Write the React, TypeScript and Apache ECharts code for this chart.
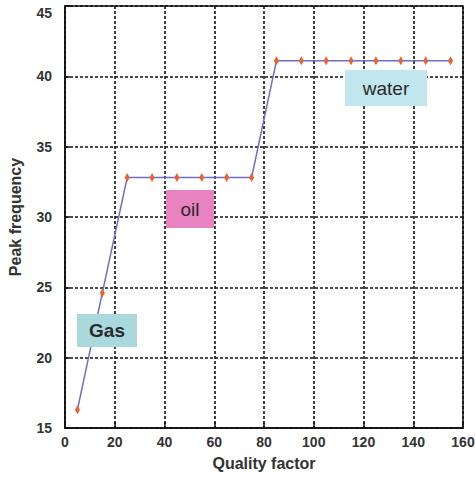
import React, { useEffect, useRef } from "react";
import * as echarts from "echarts";

const qualityFactor = [5, 15, 25, 35, 45, 55, 65, 75, 85, 95, 105, 115, 125, 135, 145, 155];
const peakFrequency = [16.3, 24.6, 32.8, 32.8, 32.8, 32.8, 32.8, 32.8, 41.1, 41.1, 41.1, 41.1, 41.1, 41.1, 41.1, 41.1];
const labelTexts = ["Gas", "oil", "water"];
const labelFills = ["#a9d8dd", "#e882c0", "#c2e6ee"];
const labelBold = [true, false, false];
const labelBoxes = [
  { x: 77, y: 314, w: 60, h: 33 },
  { x: 166, y: 190, w: 48, h: 38 },
  { x: 345, y: 70, w: 82, h: 36 },
];

const FONT = "'Liberation Sans', Arial, sans-serif";

export default function App() {
  const ref = useRef<HTMLDivElement>(null);
  useEffect(() => {
    if (!ref.current) return;
    const chart = echarts.init(ref.current, null, { renderer: "svg" });
    const grid = { color: "#111", type: [3, 2] as any, width: 1.6 };
    chart.setOption({
      animation: false,
      backgroundColor: "#fff",
      grid: {
        left: 65, right: 12, top: 6, bottom: 51, show: true, borderColor: "#111", borderWidth: 1.5,
        backgroundColor: "transparent", outerBoundsMode: "none", containLabel: false,
      },
      xAxis: {
        type: "value", min: 0, max: 160, interval: 20,
        axisLine: { lineStyle: { color: "#111", width: 1.5 } },
        axisTick: { inside: true, length: 6, lineStyle: { color: "#111", width: 1.5 } },
        splitLine: { show: true, lineStyle: grid },
        axisLabel: { color: "#333", fontWeight: "bold", fontSize: 14, fontFamily: FONT, margin: 7 },
        name: "Quality factor", nameLocation: "middle", nameGap: 27,
        nameTextStyle: { color: "#333", fontWeight: "bold", fontSize: 16, fontFamily: FONT },
      },
      yAxis: {
        type: "value", min: 15, max: 45, interval: 5,
        axisLine: { show: true, lineStyle: { color: "#111", width: 1.5 } },
        axisTick: { show: true, inside: true, length: 5, lineStyle: { color: "#111", width: 1.5 } },
        splitLine: { show: true, lineStyle: grid },
        axisLabel: {
          color: "#333", fontWeight: "bold", fontSize: 14, fontFamily: FONT, margin: 13,
          formatter: (v: number) => (v === 45 ? `{t|${v}}` : `${v}`),
          rich: { t: { color: "#333", fontWeight: "bold", fontSize: 14, fontFamily: FONT, lineHeight: 14, padding: [14, 0, 0, 0] } },
        },
        name: "Peak frequency", nameLocation: "middle", nameGap: 42,
        nameTextStyle: { color: "#333", fontWeight: "bold", fontSize: 16, fontFamily: FONT },
      },
      series: [
        {
          type: "line",
          data: qualityFactor.map((q, i) => [q, peakFrequency[i]]),
          lineStyle: { color: "#6b6bd0", width: 1.5 },
          symbol: "diamond",
          symbolSize: [5, 9],
          itemStyle: { color: "#f0602a" },
          z: 3,
        },
        {
          type: "custom",
          z: 20,
          silent: true,
          clip: false,
          data: labelTexts.map((_, i) => [i]),
          renderItem: (params: any) => {
            const i = params.dataIndex;
            const b = labelBoxes[i];
            return {
              type: "group",
              children: [
                { type: "rect", shape: { x: b.x, y: b.y, width: b.w, height: b.h }, style: { fill: labelFills[i] } },
                {
                  type: "text",
                  x: b.x + b.w / 2,
                  y: b.y + b.h / 2,
                  style: {
                    text: labelTexts[i], fill: "#2a2a2a", fontSize: 19,
                    fontWeight: labelBold[i] ? "bold" : "normal",
                    fontFamily: FONT, align: "center", verticalAlign: "middle",
                  },
                },
              ],
            };
          },
        },
      ],
    });
    return () => chart.dispose();
  }, []);
  return <div ref={ref} style={{ width: 475, height: 479, position: "absolute", left: 0, top: 0 }} />;
}
